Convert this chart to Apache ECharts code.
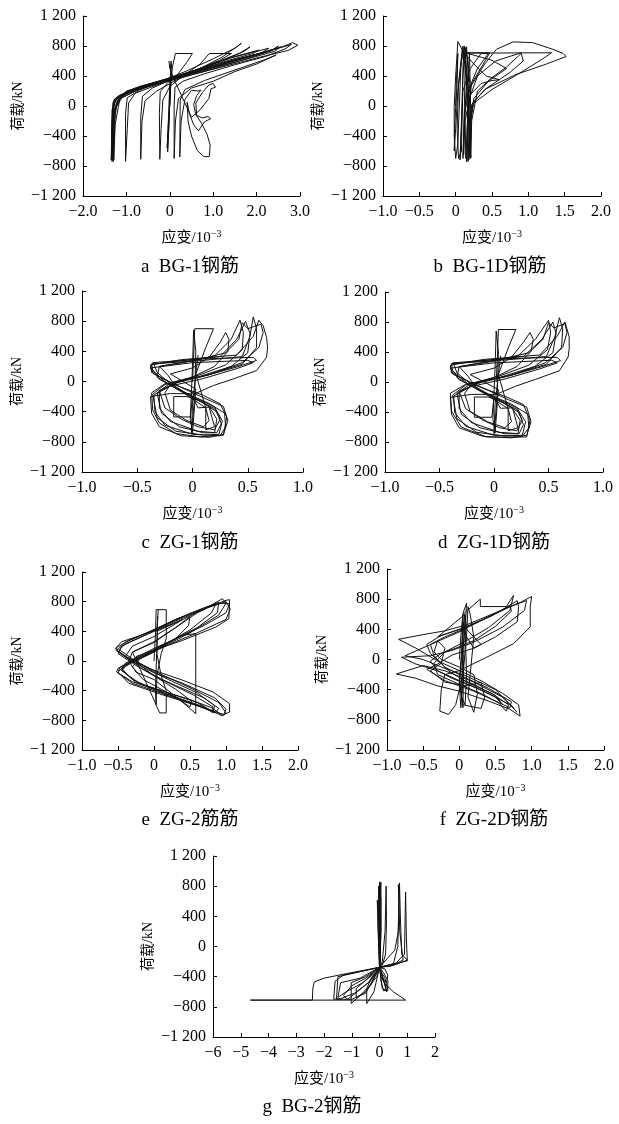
<!DOCTYPE html>
<html>
<head>
<meta charset="utf-8">
<title>荷载-应变曲线</title>
<script src="https://cdn.jsdelivr.net/npm/echarts@6/dist/echarts.min.js"></script>
<style>
html, body { margin: 0; padding: 0; background: #fff; }
#main { width: 619px; height: 1124px; }
</style>
</head>
<body>
<div id="main"></div>
<script>
// tick labels
var yTicks = ['−1 200', '−800', '−400', '0', '400', '800', '1 200'];
var xTicksBG1 = ['−2.0', '−1.0', '0', '1.0', '2.0', '3.0'];
var xTicksWide = ['−1.0', '−0.5', '0', '0.5', '1.0', '1.5', '2.0'];
var xTicksNarrow = ['−1.0', '−0.5', '0', '0.5', '1.0'];
var xTicksBG2 = ['−6', '−5', '−4', '−3', '−2', '−1', '0', '1', '2'];

// 应变(10^-3), 荷载(kN)
var bg1Curve = [
	[0, 0], [0.02, 300], [0.03, 600], [0.01, 250], [-0.02, -250], [-0.05, -610], [-0.02, -250], [0.01, 200], [0.03, 560],
	[0.0, 300], [-0.04, -300], [-0.06, -560], [-0.03, -200], [0.02, 250], [0.06, 520], [0.13, 700], [0.52, 700], [0.4, 590],
	[0.18, 420], [-0.05, 310], [-0.22, 190], [-0.24, -100], [-0.23, -710], [-0.2, -300], [-0.16, 80], [0.0, 260], [0.3, 400],
	[0.7, 560], [0.91, 700], [1.42, 700], [1.15, 610], [0.6, 480], [0.1, 370], [-0.4, 240], [-0.63, 130], [-0.67, -150],
	[-0.67, -710], [-0.64, -200], [-0.57, 70], [-0.3, 200], [0.1, 330], [0.7, 500], [1.2, 650], [1.65, 835], [1.5, 770],
	[1.0, 630], [0.4, 470], [-0.2, 330], [-0.7, 210], [-0.98, 110], [-1.02, -100], [-1.02, -740], [-0.98, -300], [-0.95, 40],
	[-0.8, 170], [-0.3, 280], [0.3, 400], [1.0, 560], [1.6, 700], [1.85, 790], [1.72, 730], [1.2, 610], [0.5, 460],
	[-0.2, 340], [-0.8, 240], [-1.2, 130], [-1.29, 70], [-1.31, -200], [-1.3, -740], [-1.27, -300], [-1.25, 0], [-1.1, 150],
	[-0.6, 260], [0.1, 380], [0.8, 520], [1.5, 660], [2.05, 745], [1.92, 700], [1.3, 600], [0.6, 470], [0.0, 370],
	[-0.7, 260], [-1.22, 100], [-1.33, -50], [-1.35, -720], [-1.31, -150], [-1.22, 60], [-0.9, 210], [-0.2, 340], [0.6, 480],
	[1.4, 640], [2.28, 770], [2.12, 710], [1.5, 610], [0.8, 480], [0.2, 390], [-0.5, 280], [-1.0, 190], [-1.28, 90],
	[-1.32, -100], [-1.31, -620], [-1.28, -50], [-1.0, 200], [-0.3, 320], [0.5, 450], [1.5, 620], [2.3, 730], [2.55, 790],
	[2.42, 730], [1.8, 630], [1.0, 510], [0.3, 400], [-0.5, 270], [-1.15, 140], [-1.31, 50], [-1.34, -300], [-1.33, -740],
	[-1.29, -100], [-1.12, 150], [-0.5, 280], [0.3, 410], [1.2, 570], [2.0, 690], [2.6, 790], [2.83, 845], [2.95, 810],
	[2.72, 740], [2.0, 640], [1.2, 520], [0.5, 420], [-0.2, 320], [-0.8, 220], [-1.2, 110], [-1.3, 30], [-1.32, -400],
	[-1.31, -720], [-1.28, -200], [-1.2, 80], [-0.7, 230], [0.0, 360], [0.9, 500], [1.7, 640], [2.4, 760], [2.5, 800],
	[2.35, 740], [1.6, 600], [0.8, 460], [0.1, 350], [-0.6, 240], [-1.1, 140], [-1.28, 60], [-1.3, -500], [-1.29, -720],
	[-1.26, -250], [-1.15, 100], [-0.6, 250], [0.2, 380], [1.0, 520], [1.8, 650], [2.5, 770], [2.8, 820], [2.65, 760],
	[2.2, 660], [1.5, 550], [0.8, 430], [0.3, 330], [0.12, 250], [0.1, 0], [0.1, -700], [0.13, -200],
	[0.2, 100], [0.5, 240], [1.0, 330], [1.5, 460], [2.0, 560], [2.45, 680], [2.2, 620], [1.5, 480], [0.8, 340],
	[0.35, 220], [0.24, 80], [0.23, -680], [0.26, -200], [0.35, 90], [0.5, 210], [0.65, 200], [0.72, 213], [0.62, 140],
	[0.55, 20], [0.6, -120], [0.75, -160], [0.88, -140], [0.94, -170], [0.8, -210], [0.66, -330], [0.55, -250], [0.45, -100],
	[0.4, 50], [0.42, -200], [0.5, -400], [0.63, -590], [0.78, -675], [0.91, -675], [0.93, -520], [0.86, -380], [0.74, -240],
	[0.62, -130], [0.6, 40], [0.75, 180], [0.9, 280], [1.0, 300], [1.05, 250], [0.95, 230], [0.9, 100], [0.7, -50],
	[0.5, -150], [0.3, 100], [0.1, 350], [0.0, 500], [-0.02, 600]
];

var bg1dCurve = [
	[0, 0], [0.01, 350], [0.03, 700], [0.02, 300], [-0.01, -200], [-0.02, -600], [0.0, -300], [0.03, 200], [0.08, 600],
	[0.12, 780], [0.15, 710], [0.47, 710], [0.38, 560], [0.22, 300], [0.18, 0], [0.17, -400], [0.15, -745], [0.16, -300],
	[0.19, 100], [0.3, 400], [0.55, 600], [0.9, 710], [0.93, 600], [0.75, 450], [0.4, 220], [0.22, 20], [0.2, -300],
	[0.2, -700], [0.21, -200], [0.25, 100], [0.45, 330], [0.7, 500], [0.5, 610], [0.15, 705], [1.32, 710], [1.2, 630],
	[0.9, 450], [0.5, 220], [0.25, 40], [0.19, -200], [0.18, -720], [0.2, -250], [0.24, 50], [0.42, 230], [0.83, 420],
	[1.25, 560], [1.52, 660], [1.48, 700], [1.34, 755], [1.06, 845], [0.79, 855], [0.56, 755], [0.4, 560], [0.2, 250],
	[0.12, -100], [0.1, -700], [0.12, -200], [0.15, 300], [0.1, 800], [0.07, 500], [0.05, 0], [0.03, -500], [0.0, -700],
	[-0.02, -400], [-0.02, 0], [0.0, 400], [0.03, 860], [0.1, 730], [0.25, 560], [0.42, 400], [0.6, 350], [0.5, 340],
	[0.35, 300], [0.2, 150], [0.13, -200], [0.14, -700], [0.16, -300], [0.18, 300], [0.15, 790], [0.13, 500], [0.12, 0],
	[0.11, -650], [0.13, -100], [0.17, 400], [0.19, 700], [0.2, 300], [0.21, -300], [0.2, -690], [0.18, -200], [0.15, 350],
	[0.13, 780], [0.1, 400], [0.08, -200], [0.06, -720], [0.08, -300], [0.1, 200], [0.2, 500], [0.35, 700], [0.45, 700],
	[0.3, 500], [0.17, 200], [0.16, -300], [0.17, -740], [0.19, -250], [0.2, 250], [0.16, 650], [0.12, 800], [0.1, 500],
	[0.09, 0], [0.08, -600], [0.04, -700], [0.02, -300], [0.04, 300], [0.09, 750], [0.14, 600], [0.18, 100], [0.19, -500],
	[0.21, -690], [0.22, -200], [0.3, 200], [0.5, 380], [0.7, 520], [0.9, 700]
];

var zg1Curve = [
	[0, 0], [0.01, 300], [0.02, 700], [0.19, 700], [0.12, 450], [0.03, 100], [0.0, -300], [-0.01, -690], [0.02, -200],
	[0.03, 400], [0.01, 680], [0.0, 200], [-0.02, -500], [0.0, -680], [0.03, -100], [-0.2, 100],
	[0.0, 180], [0.15, 320], [0.25, 520], [0.3, 650], [0.33, 560], [0.32, 400], [0.2, 200], [0.0, 60], [-0.2, -40],
	[-0.25, -150], [-0.2, -380], [-0.05, -520], [0.1, -600], [0.15, -520], [0.12, -350], [0.0, -230], [-0.15, -80], [-0.22, 80],
	[-0.3, 200], [-0.05, 260], [0.2, 340], [0.35, 560], [0.43, 813], [0.46, 650], [0.45, 420], [0.3, 220], [0.05, 80],
	[-0.2, -20], [-0.32, -150], [-0.28, -420], [-0.12, -600], [0.1, -680], [0.2, -680], [0.22, -500], [0.15, -330],
	[0.0, -200], [-0.2, -30], [-0.32, 120],
	[-0.35, 230], [-0.1, 275], [0.25, 330], [0.4, 560], [0.48, 796], [0.52, 640], [0.5, 380], [0.35, 200], [0.05, 60],
	[-0.25, -40], [-0.36, -170], [-0.32, -480], [-0.15, -660], [0.1, -710], [0.24, -700], [0.27, -520], [0.2, -340],
	[0.02, -210], [-0.22, -40], [-0.36, 150],
	[-0.37, 233], [0.07, 277], [0.45, 330], [0.52, 600], [0.55, 857], [0.58, 700], [0.58, 450], [0.45, 230], [0.1, 70],
	[-0.25, -30], [-0.37, -150], [-0.36, -380], [-0.3, -550], [-0.15, -690], [0.07, -734], [0.28, -712], [0.31, -470],
	[0.25, -295], [0.1, -185], [-0.15, -50], [-0.37, 120],
	[-0.38, 220], [-0.1, 290], [0.4, 350], [0.55, 600], [0.6, 813], [0.64, 738], [0.67, 585], [0.68, 453], [0.67, 321],
	[0.58, 145], [0.37, 35], [0.19, -53], [0.02, -163], [-0.2, -160], [-0.38, -200], [-0.37, -420], [-0.3, -600],
	[-0.1, -720], [0.15, -740], [0.28, -700], [0.32, -520], [0.28, -330], [0.12, -230], [-0.1, -80], [-0.35, 100],
	[-0.38, 180], [0.0, 250], [0.5, 280], [0.55, 250], [0.4, 170], [0.1, 40], [-0.2, -60], [-0.35, -180], [-0.34, -400],
	[-0.25, -580], [0.0, -700], [0.25, -720], [0.3, -600], [0.29, -420], [0.15, -290], [-0.1, -130], [-0.3, 30], [-0.38, 190],
	[-0.36, 250], [0.1, 300], [0.55, 320], [0.58, 280], [0.42, 200], [0.15, 90], [-0.15, -20], [-0.3, -130], [-0.3, -350],
	[-0.2, -530], [0.05, -660], [0.22, -680], [0.26, -560], [0.22, -400], [0.08, -270], [-0.12, -120], [-0.32, 60],
	[-0.3, 200], [0.05, 290], [0.3, 380], [0.42, 560], [0.45, 780], [0.5, 700], [0.62, 760], [0.64, 650], [0.6, 450],
	[0.45, 250], [0.15, 90], [-0.1, 10], [-0.3, -120], [-0.25, -350], [-0.1, -500], [0.05, -600], [0.2, -640], [0.25, -500],
	[0.2, -360], [0.05, -250], [-0.05, -200], [-0.17, -200], [-0.17, -470], [-0.02, -470], [0.0, -200], [0.05, -350],
	[0.15, -340], [0.2, -600], [0.12, -640], [0.12, -350], [0.03, 100], [0.05, 350]
];

var zg1dCurve = [
	[0.02, 0], [0.03, 300], [0.04, 700], [0.2, 700], [0.13, 450], [0.04, 100], [0.01, -300], [0.0, -690], [0.03, -200],
	[0.04, 400], [0.02, 680], [0.01, 200], [-0.01, -500], [0.01, -680], [0.04, -100], [-0.22, 100],
	[0.0, 185], [0.16, 330], [0.27, 530], [0.33, 660], [0.36, 570], [0.34, 410], [0.21, 205], [0.0, 60], [-0.21, -40],
	[-0.27, -150], [-0.22, -390], [-0.06, -530], [0.1, -610], [0.16, -530], [0.13, -355], [0.0, -235], [-0.16, -80],
	[-0.24, 80],
	[-0.32, 205], [-0.05, 265], [0.22, 345], [0.38, 570], [0.5, 822], [0.52, 660], [0.49, 430], [0.32, 225], [0.05, 80],
	[-0.21, -20], [-0.34, -150], [-0.3, -430], [-0.13, -610], [0.1, -690], [0.22, -690], [0.24, -510], [0.16, -335],
	[0.0, -205], [-0.21, -30], [-0.34, 120],
	[-0.37, 240], [-0.1, 285], [0.27, 340], [0.44, 570], [0.54, 800], [0.57, 650], [0.54, 390], [0.37, 205], [0.05, 60],
	[-0.26, -40], [-0.38, -175], [-0.34, -490], [-0.16, -670], [0.1, -720], [0.26, -710], [0.29, -530], [0.21, -345],
	[0.02, -215], [-0.23, -40], [-0.38, 150],
	[-0.39, 244], [0.07, 290], [0.48, 340], [0.56, 610], [0.6, 858], [0.63, 710], [0.62, 460], [0.48, 235], [0.1, 70],
	[-0.26, -30], [-0.4, -150], [-0.39, -390], [-0.3, -600], [-0.07, -733], [0.15, -735], [0.3, -733], [0.33, -511],
	[0.27, -300], [0.1, -190], [-0.16, -50], [-0.39, 120],
	[-0.4, 225], [-0.1, 300], [0.42, 360], [0.58, 610], [0.65, 800], [0.66, 755], [0.69, 600], [0.69, 444], [0.68, 333],
	[0.6, 150], [0.38, 35], [0.2, -55], [0.02, -165], [-0.21, -165], [-0.4, -205], [-0.39, -430], [-0.32, -610],
	[-0.1, -725], [0.16, -745], [0.3, -710], [0.34, -530], [0.3, -335], [0.13, -235], [-0.1, -80], [-0.37, 100],
	[-0.4, 185], [0.0, 255], [0.53, 290], [0.58, 255], [0.42, 175], [0.1, 40], [-0.21, -60], [-0.37, -185], [-0.36, -410],
	[-0.26, -590], [0.0, -710], [0.26, -725], [0.32, -610], [0.31, -430], [0.16, -295], [-0.1, -130], [-0.32, 30],
	[-0.4, 195],
	[-0.38, 255], [0.1, 310], [0.58, 330], [0.61, 285], [0.44, 205], [0.16, 90], [-0.16, -20], [-0.32, -135], [-0.32, -355],
	[-0.21, -540], [0.05, -670], [0.23, -690], [0.27, -570], [0.23, -405], [0.08, -275], [-0.13, -120], [-0.34, 60],
	[-0.32, 205], [0.05, 300], [0.32, 390], [0.45, 570], [0.5, 790], [0.55, 720], [0.65, 780], [0.67, 660], [0.63, 460],
	[0.47, 255], [0.16, 90], [-0.1, 10], [-0.32, -125], [-0.26, -355], [-0.1, -510], [0.05, -610], [0.21, -650],
	[0.26, -510], [0.21, -365], [0.05, -255], [-0.05, -200], [-0.18, -200], [-0.18, -470], [-0.02, -470], [0.0, -200],
	[0.06, -350], [0.17, -345], [0.22, -610], [0.13, -650], [0.13, -360], [0.04, 100], [0.06, 350]
];

var zg2Curve = [
	[0, 0], [0.02, 350], [0.03, 692], [0.17, 692], [0.17, 300], [0.1, 100], [0.04, -200], [0.03, -598], [0.08, -700],
	[0.17, -700], [0.17, -400], [0.1, -200], [0.04, 100], [0.05, 600], [0.04, 200], [0.02, -400], [0.03, -590], [-0.3, 120],
	[0.0, 260], [0.3, 450], [0.5, 600], [0.48, 480], [0.3, 300], [0.0, 150], [-0.2, 30], [-0.3, -80], [-0.15, -250],
	[0.1, -380], [0.35, -520], [0.5, -620], [0.52, -540], [0.3, -380], [0.0, -200], [-0.2, -50], [-0.25, 60], [0.0, 150],
	[0.2, 250], [0.4, 350], [0.58, 368], [0.58, -100], [0.58, -710], [0.45, -600], [0.2, -400], [0.0, -250], [-0.25, -150],
	[-0.35, 0], [-0.3, 120], [0.0, 250], [0.3, 450], [0.6, 650], [0.86, 773], [0.8, 650], [0.5, 420], [0.2, 250],
	[0.0, 120], [-0.3, -20], [-0.45, -100], [-0.3, -250], [0.0, -380], [0.4, -520], [0.7, -620], [0.82, -700], [0.84, -600],
	[0.6, -430], [0.2, -250], [0.0, -150], [-0.3, 30], [-0.48, 150], [-0.4, 230], [0.0, 400], [0.4, 560], [0.7, 700],
	[0.95, 840], [1.0, 780], [0.9, 620], [0.5, 380], [0.1, 180], [-0.2, 30], [-0.5, -100], [-0.52, -148], [-0.3, -280],
	[0.0, -370], [0.5, -520], [0.8, -630], [0.95, -733], [1.05, -688], [1.05, -575], [0.82, -418], [0.4, -260], [0.0, -126],
	[-0.38, 54], [-0.54, 166], [-0.45, 260], [-0.2, 340], [0.0, 413], [0.3, 560], [0.63, 683], [1.0, 818], [1.05, 827],
	[1.04, 571], [0.86, 458], [0.4, 279], [0.0, 144], [-0.29, 9], [-0.47, -81], [-0.5, -160], [-0.3, -300], [0.0, -400],
	[0.4, -540], [0.75, -650], [0.95, -740], [1.0, -700], [0.9, -560], [0.5, -360], [0.1, -180], [-0.2, -40], [-0.5, 120],
	[-0.52, 180], [-0.35, 280], [0.0, 420], [0.5, 640], [0.9, 780], [1.05, 773], [1.0, 650], [0.7, 480], [0.3, 300],
	[0.0, 170], [-0.3, 20], [-0.45, -130], [-0.2, -300], [0.2, -430], [0.6, -560], [0.85, -700], [0.9, -640], [0.7, -500],
	[0.3, -330], [0.0, -200], [-0.25, -60], [-0.5, 100], [-0.45, 200], [-0.1, 360], [0.3, 540], [0.75, 720], [1.0, 800],
	[1.06, 700], [1.0, 560], [0.6, 380], [0.2, 220], [-0.1, 80], [-0.4, -50], [-0.5, -150], [-0.35, -300], [0.1, -450],
	[0.6, -600], [0.9, -700], [0.97, -720], [1.0, -650], [0.85, -500], [0.4, -300], [0.0, -160], [-0.35, 20], [-0.52, 140],
	[-0.4, 250], [-0.1, 380], [0.3, 560], [0.7, 720], [0.9, 790], [0.88, 650], [0.6, 450], [0.2, 250], [-0.1, 100],
	[-0.4, -30], [-0.45, -120], [-0.25, -290], [0.15, -440], [0.55, -580], [0.8, -680], [0.82, -620], [0.55, -460],
	[0.15, -270], [-0.15, -110], [-0.4, 60], [-0.3, 200], [0.0, 330], [0.4, 560], [0.04, 400], [0.06, 700]
];

var zg2dCurve = [
	[0, 0], [0.02, 300], [0.05, 612], [0.1, 746], [0.08, 400], [0.03, 0], [0.0, -300], [0.02, -640], [0.05, -300],
	[0.04, 200], [0.05, 600], [0.29, 800], [0.29, 702], [0.65, 702], [0.75, 850], [0.7, 650], [0.4, 420], [0.1, 250],
	[-0.2, 100], [-0.35, -50], [-0.3, -200], [0.0, -330], [0.3, -450], [0.55, -580], [0.65, -684], [0.68, -600],
	[0.45, -450], [0.1, -300], [-0.15, -150], [-0.35, 50], [-0.4, 200], [-0.2, 300], [0.1, 420], [0.4, 560], [0.7, 700],
	[0.93, 782], [0.9, 650], [0.6, 430], [0.2, 230], [-0.1, 120], [-0.4, 50], [-0.8, 30], [-0.6, -60], [-0.3, -150],
	[0.0, -280], [0.4, -450], [0.7, -600], [0.75, -640], [0.6, -500], [0.2, -300], [-0.2, -150], [-0.5, -80], [-0.87, -192],
	[-0.6, -250], [-0.3, -350], [0.0, -420], [0.4, -550], [0.7, -660], [0.84, -751], [0.82, -600], [0.6, -450], [0.3, -280],
	[0.0, -147], [-0.3, -20], [-0.6, 150], [-0.84, 268], [-0.5, 330], [-0.2, 380], [0.1, 460], [0.5, 620], [0.85, 760],
	[1.0, 836], [0.98, 700], [0.98, 434], [0.75, 210], [0.38, 31], [0.0, -147], [-0.2, -200], [-0.25, -400], [-0.27, -684],
	[-0.15, -729], [-0.05, -600], [0.0, -400], [0.05, -200], [0.1, 300], [0.12, 700], [0.15, 600], [0.2, 300], [0.15, -200],
	[0.12, -500], [0.2, -700], [0.25, -450], [0.2, -200], [0.0, -100], [-0.25, 0], [-0.35, 100], [-0.3, 250], [-0.2, 150],
	[-0.25, -50], [-0.4, -150], [-0.2, -300], [0.1, -350], [0.3, -300], [0.35, -500], [0.3, -650], [0.05, -600], [0.0, -300],
	[0.03, 100], [0.05, 500], [0.1, 300], [0.2, 150], [0.3, 200], [0.2, 300], [0.1, 400], [0.08, 600],
	[-0.3, 300], [0.0, 400], [0.3, 520], [0.6, 660], [0.8, 780], [0.82, 700], [0.8, 500], [0.5, 300], [0.2, 150],
	[-0.1, 60], [-0.3, -60], [-0.45, -130], [-0.2, -280], [0.2, -420], [0.5, -550], [0.7, -640], [0.72, -560], [0.4, -380],
	[0.1, -250], [-0.2, -100], [-0.4, 80], [-0.45, 200], [-0.25, 320], [0.1, 430], [0.45, 580], [0.7, 720], [0.72, 640],
	[0.5, 440], [0.2, 250], [-0.05, 150], [-0.25, 80], [-0.4, -20], [-0.3, -150], [-0.1, -250], [0.25, -380], [0.5, -500],
	[0.6, -600], [0.5, -480], [0.2, -330], [0.0, -250], [0.05, -640], [0.06, 0], [0.07, 600], [0.05, 300], [0.03, -500],
	[0.08, -600], [0.1, -200], [0.08, 400], [-0.75, 50], [-0.5, 0], [-0.25, -100], [0.1, -220], [0.5, -400], [0.8, -700]
];

var bg2Curve = [
	[0, 0], [0.01, 400], [0.0, 858], [-0.02, 300], [0.0, -276], [0.05, -400], [0.2, -500], [0.25, -600], [0.15, -450],
	[0.0, -276], [-0.5, -420], [-1.0, -520], [-1.3, -650], [-1.15, -700], [-0.8, -600], [-0.3, -450], [0.0, -276],
	[0.02, 100], [-0.08, 613], [-0.05, 200], [0.0, -276], [0.1, -200], [0.2, 200], [0.24, 800], [0.25, 300], [0.22, -100],
	[0.1, -250], [0.0, -276], [-0.7, -420], [-1.4, -480], [-1.5, -676], [-1.2, -600], [-0.6, -480], [0.0, -300], [0.2, -420],
	[0.28, -560], [0.15, -590], [0.05, -450], [0.03, 0], [0.05, 600], [0.02, 850], [0.0, 200], [0.0, -276], [-0.5, -400],
	[-1.02, -480], [-1.02, -756], [-0.7, -650], [-0.3, -500], [0.0, -276], [0.3, -150], [0.55, -50], [0.68, 200],
	[0.72, 844], [0.76, 300], [0.8, -100], [1.02, -187], [0.36, -253], [0.0, -276], [-0.3, -420], [-0.46, -560],
	[-0.46, -756], [-0.2, -600], [0.0, -276], [0.5, -230], [0.66, 0], [0.7, 600], [0.68, 820], [0.73, 200], [0.85, -180],
	[0.4, -260], [0.0, -276], [-1.2, -360], [-2.0, -420], [-2.35, -470], [-2.4, -550], [-2.42, -711], [-4.65, -711],
	[0.94, -711], [0.5, -600], [0.2, -500], [0.0, -276], [0.6, -220], [0.9, -100], [0.94, 724], [0.97, 100], [1.0, -180],
	[0.5, -250], [0.0, -276], [-0.84, -560], [-0.84, -676], [-0.5, -600], [-0.1, -400], [0.0, -276], [0.15, -350],
	[0.3, -450], [0.3, -590], [0.1, -560], [0.0, -276], [-1.5, -400], [-1.55, -700], [-1.0, -700], [-0.5, -620], [0.0, -276],
	[-0.05, 300], [-0.03, 800], [0.0, 400], [0.03, -200], [0.02, 600], [0.05, 850], [0.06, 200], [0.0, -276],
	[-1.3, -380], [-1.6, -460], [-1.65, -700], [-1.4, -690], [-0.9, -620], [-0.4, -480], [0.0, -276], [0.2, -300],
	[0.3, -380], [0.25, -480], [0.12, -420], [0.0, -276]
];

var panels = [
	{ curve: bg1Curve, ticks: xTicksBG1, caption: 'a  BG-1钢筋', left: 83, top: 16, width: 217, height: 180, cx: 190, cy: 267 },
	{ curve: bg1dCurve, ticks: xTicksWide, caption: 'b  BG-1D钢筋', left: 383, top: 16, width: 218, height: 180, cx: 490, cy: 267 },
	{ curve: zg1Curve, ticks: xTicksNarrow, caption: 'c  ZG-1钢筋', left: 82, top: 291, width: 221, height: 181, cx: 190, cy: 543 },
	{ curve: zg1dCurve, ticks: xTicksNarrow, caption: 'd  ZG-1D钢筋', left: 385, top: 292, width: 218, height: 180, cx: 494, cy: 543 },
	{ curve: zg2Curve, ticks: xTicksWide, caption: 'e  ZG-2筋筋', left: 82, top: 572, width: 216, height: 178, cx: 190, cy: 820 },
	{ curve: zg2dCurve, ticks: xTicksWide, caption: 'f  ZG-2D钢筋', left: 387, top: 569, width: 217, height: 181, cx: 494, cy: 820 },
	{ curve: bg2Curve, ticks: xTicksBG2, caption: 'g  BG-2钢筋', left: 213, top: 856, width: 222, height: 181, cx: 312, cy: 1107 }
];

var serif = '"Liberation Serif", "Noto Sans CJK SC", serif';

function tickValue(label) {
	return parseFloat(label.replace('−', '-').replace(/\s/g, ''));
}

function labelFor(labels) {
	return function (value) {
		for (var i = 0; i < labels.length; i++) {
			if (Math.abs(tickValue(labels[i]) - value) < 1e-6) return labels[i];
		}
		return '';
	};
}

var chart = echarts.init(document.getElementById('main'), null, { renderer: 'canvas' });

var grids = [], xAxes = [], yAxes = [], series = [], texts = [];

panels.forEach(function (p, i) {
	var xMin = tickValue(p.ticks[0]);
	var xMax = tickValue(p.ticks[p.ticks.length - 1]);
	var xStep = tickValue(p.ticks[1]) - xMin;

	grids.push({
		left: p.left, top: p.top, width: p.width, height: p.height,
		containLabel: false, outerBoundsMode: 'none'
	});

	xAxes.push({
		type: 'value', gridIndex: i,
		min: xMin, max: xMax, interval: xStep,
		axisLine: { onZero: false, lineStyle: { color: '#000', width: 1 } },
		axisTick: { inside: true, length: 4, lineStyle: { color: '#000' } },
		axisLabel: { formatter: labelFor(p.ticks), color: '#000', fontFamily: serif, fontSize: 16, margin: 8, showMinLabel: true, showMaxLabel: true },
		splitLine: { show: false },
		name: '{n|应变/10}{sup|−3}',
		nameLocation: 'middle',
		nameGap: 33,
		nameTextStyle: {
			color: '#000', fontFamily: serif, fontSize: 15,
			rich: {
				n: { fontSize: 15, fontFamily: serif, color: '#000', lineHeight: 18 },
				sup: { fontSize: 10, fontFamily: serif, color: '#000', lineHeight: 9, verticalAlign: 'top' }
			}
		}
	});

	yAxes.push({
		type: 'value', gridIndex: i,
		min: -1200, max: 1200, interval: 400,
		axisLine: { onZero: false, lineStyle: { color: '#000', width: 1 } },
		axisTick: { inside: true, length: 4, lineStyle: { color: '#000' } },
		axisLabel: { formatter: labelFor(yTicks), color: '#000', fontFamily: serif, fontSize: 16, margin: 7 },
		splitLine: { show: false },
		name: '荷载/kN',
		nameLocation: 'middle',
		nameRotate: 90,
		nameGap: 58,
		nameTextStyle: { color: '#000', fontFamily: serif, fontSize: 14 }
	});

	series.push({
		type: 'line', xAxisIndex: i, yAxisIndex: i,
		data: p.curve,
		symbol: 'none', showSymbol: false, smooth: false,
		lineStyle: { color: '#111', width: 1 },
		silent: true
	});

	texts.push({
		type: 'text', x: p.cx, y: p.cy,
		style: { text: p.caption, fill: '#000', font: '19px ' + serif, align: 'center', verticalAlign: 'middle' }
	});
});

var option = {
	backgroundColor: '#fff',
	animation: false,
	grid: grids,
	xAxis: xAxes,
	yAxis: yAxes,
	series: series,
	graphic: texts
};

chart.setOption(option);
</script>
</body>
</html>
